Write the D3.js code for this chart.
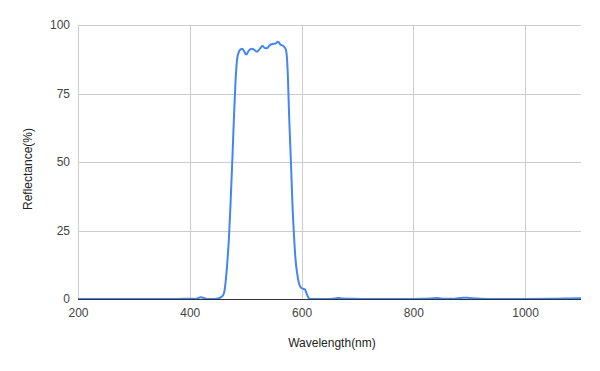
<!DOCTYPE html>
<html lang="en">
  <head>
    <meta charset="UTF-8"/>
    <title>Reflectance</title>
    <script src="https://d3js.org/d3.v7.min.js"></script>
    <style>
        body {
          margin: 0;
          background: #fff;
          font-family: "Liberation Sans", Arial, sans-serif;
        }
        .grid line {
          stroke: #ccc;
          shape-rendering: crispEdges;
        }
        .tick text {
          fill: #444;
          font-size: 12px;
          font-family: "Liberation Sans", Arial, sans-serif;
        }
        .title {
          fill: #222;
          font-size: 12px;
        }
    </style>
  </head>
  <body>
    <script>
        // wavelength (nm) and reflectance (%)
        const wavelength = [200, 300, 380, 400, 410, 420, 425, 432, 445, 452, 457, 461, 464, 467, 470, 473,
          476, 479, 482, 485, 488, 491, 494, 497, 501, 505, 510, 515, 520, 525, 530, 535, 539, 543, 548,
          553, 558, 562, 567, 572, 575, 578, 581, 584, 586, 589, 592, 595, 598, 602, 606, 609, 612, 616,
          640, 660, 666, 672, 690, 710, 780, 820, 843, 855, 870, 889, 900, 920, 950, 1000, 1050, 1080, 1100]
        const reflectance = [0, 0, 0, 0.1, 0, 0.6, 0.4, 0, 0, 0.3, 0.8, 2, 6, 13, 22, 35,
          50, 66, 80, 88, 90.3, 91.1, 91.3, 90.5, 89.2, 90.5, 91.3, 91, 90.2, 91.2, 92.3, 91.5, 91.6, 92.6, 93.1,
          93.2, 93.9, 92.9, 92.4, 91, 84, 65.5, 50, 33, 25, 15, 9.5, 6, 4.4, 3.8, 3.5, 2, 0.6, 0,
          0, 0.2, 0.35, 0.2, 0.1, 0, 0, 0.1, 0.35, 0.1, 0.1, 0.5, 0.35, 0.1, 0, 0, 0.05, 0.2, 0.3]
        const xTicks = [200, 400, 600, 800, 1000]
        const yTicks = [0, 25, 50, 75, 100]

        const width = 600, height = 371
        const margin = {top: 25, right: 19, bottom: 72, left: 78}

        const x = d3.scaleLinear().domain([200, 1100]).range([margin.left, width - margin.right])
        const y = d3.scaleLinear().domain([0, 100]).range([height - margin.bottom, margin.top])

        const svg = d3.select("body").append("svg")
            .attr("width", width)
            .attr("height", height)

        // horizontal gridlines
        svg.append("g")
            .attr("class", "grid")
          .selectAll("line")
          .data(yTicks.slice(1))
          .join("line")
            .attr("x1", margin.left)
            .attr("x2", width - margin.right)
            .attr("y1", d => Math.round(y(d)) + 0.5)
            .attr("y2", d => Math.round(y(d)) + 0.5)

        // vertical gridlines
        svg.append("g")
            .attr("class", "grid")
          .selectAll("line")
          .data(xTicks)
          .join("line")
            .attr("x1", d => Math.round(x(d)) + 0.5)
            .attr("x2", d => Math.round(x(d)) + 0.5)
            .attr("y1", margin.top)
            .attr("y2", y(0))

        // y axis labels
        const yAxis = d3.axisLeft(y).tickValues(yTicks).tickSize(0).tickPadding(8)
        svg.append("g")
            .attr("transform", `translate(${margin.left}, 0)`)
            .call(yAxis)
            .call(g => g.select(".domain").remove())

        // x axis labels
        const xAxis = d3.axisBottom(x).tickValues(xTicks).tickFormat(d3.format("d")).tickSize(0).tickPadding(9)
        svg.append("g")
            .attr("transform", `translate(0, ${y(0)})`)
            .call(xAxis)
            .call(g => g.select(".domain").remove())

        // curve
        const line = d3.line()
            .x((d, i) => x(wavelength[i]))
            .y(d => y(d))
            .curve(d3.curveMonotoneX)

        svg.append("path")
            .datum(reflectance)
            .attr("fill", "none")
            .attr("stroke", "#4285f4")
            .attr("stroke-width", 2)
            .attr("stroke-linejoin", "round")
            .attr("d", line)

        // baseline
        svg.append("line")
            .attr("x1", margin.left)
            .attr("x2", width - margin.right)
            .attr("y1", Math.round(y(0)) + 0.5)
            .attr("y2", Math.round(y(0)) + 0.5)
            .attr("stroke", "#333")
            .attr("shape-rendering", "crispEdges")

        // axis titles
        svg.append("text")
            .attr("class", "title")
            .attr("x", 332)
            .attr("y", 347)
            .attr("text-anchor", "middle")
            .text("Wavelength(nm)")

        svg.append("text")
            .attr("class", "title")
            .attr("transform", "translate(32, 169) rotate(-90)")
            .attr("text-anchor", "middle")
            .text("Reflectance(%)")
    </script>
  </body>
</html>
